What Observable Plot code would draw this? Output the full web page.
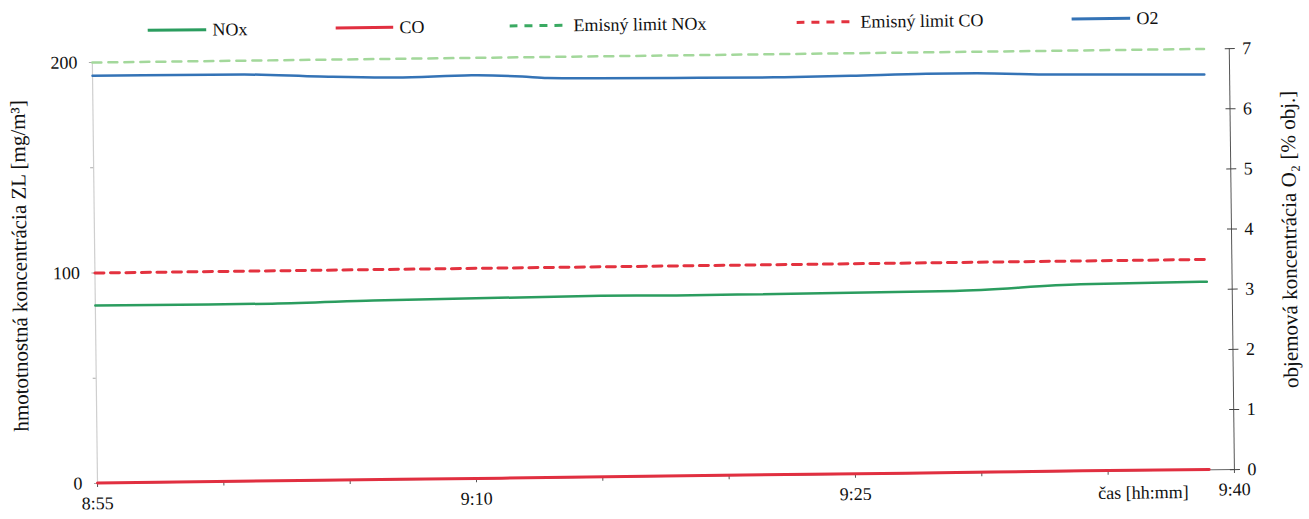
<!DOCTYPE html>
<html>
<head>
<meta charset="utf-8">
<script src="https://cdn.jsdelivr.net/npm/d3@7"></script>
<script src="https://cdn.jsdelivr.net/npm/@observablehq/plot@0.6"></script>
<style>
  html, body { margin: 0; padding: 0; background: #fff; overflow: hidden; }
  #wrap { position: relative; width: 1309px; height: 519px; transform: rotate(-0.7deg); transform-origin: 97px 483px; font-family: "Liberation Serif", "Times New Roman", Times, "DejaVu Serif", serif; color: #111; }
  #legend { position: absolute; left: 0; top: 0; width: 1309px; height: 45px; }
  .item { position: absolute; top: 20px; height: 22px; display: flex; align-items: center; font-size: 18px; white-space: nowrap; }
  .item svg { display: block; margin-right: 6px; }
  #chart { position: absolute; left: 0; top: 45px; }
</style>
</head>
<body>
<div id="wrap"><div id="legend"></div><div id="chart"></div></div>
<script>
// ---- data ----
const xDomain = ["8:55", "9:40"];
const xTickTimes = ["8:55", "9:00", "9:05", "9:10", "9:15", "9:20", "9:25", "9:30", "9:35", "9:40"];
const xTickLabels = ["8:55", "9:10", "9:25", "9:40"];
const leftTicks = [0, 50, 100, 150, 200];
const leftTickLabels = [0, 100, 200];
const rightTicks = [0, 1, 2, 3, 4, 5, 6, 7];
const leftMax = 200;
const rightMax = 7;

const noxTimes  = ["8:55", "9:02", "9:06", "9:15", "9:18", "9:29", "9:34", "9:39"];
const noxValues = [84.6, 84.4, 85.3, 86.3, 86.0, 86.5, 88.9, 89.4];

const coTimes  = ["8:55", "9:03", "9:11", "9:19", "9:27", "9:34", "9:39"];
const coValues = [0.2, 0.3, 0.2, 0.3, 0.2, 0.3, 0.2];

const limitTimes     = ["8:55", "9:39"];
const noxLimitValues = [200, 200];
const coLimitValues  = [100, 100];

const o2Times  = ["8:55", "8:57", "9:01", "9:04", "9:07", "9:10", "9:12", "9:13", "9:15", "9:18", "9:22", "9:25", "9:28", "9:30", "9:33", "9:36", "9:39"];
const o2Values = [6.78, 6.78, 6.77, 6.72, 6.69, 6.71, 6.68, 6.65, 6.635, 6.625, 6.615, 6.625, 6.645, 6.64, 6.605, 6.59, 6.575];

const seriesNames = ["NOx", "CO", "Emisný limit NOx", "Emisný limit CO", "O2"];
const leftTitle  = "hmototnostná koncentrácia ZL [mg/m³]";
const rightTitle = "objemová koncentrácia O₂ [% obj.]";
const xTitle     = "čas [hh:mm]";

// ---- helpers ----
const FONT = "'Liberation Serif', 'Times New Roman', Times, 'DejaVu Serif', serif";
const toMin = s => { const [h, m] = s.split(":").map(Number); return h * 60 + m; };
const toLeft = v => v * leftMax / rightMax;
const rows = (times, values) => times.map((t, i) => ({ t: toMin(t), v: values[i] }));
const labelByMin = new Map(xTickLabels.map(s => [toMin(s), s]));

const C = {
  nox: "#2b9d5f", co: "#e12f40", noxLim: "#a3d89b", noxLimLegend: "#3aaa62", coLim: "#e3323f", o2: "#3473b6"
};

// ---- legend ----
const legendItems = [
  { name: seriesNames[0], color: C.nox, dash: null, left: 153, w: 59 },
  { name: seriesNames[1], color: C.co, dash: null, left: 341, w: 58 },
  { name: seriesNames[2], color: C.noxLimLegend, dash: "8,7", left: 515, w: 58 },
  { name: seriesNames[3], color: C.coLim, dash: "8,7", left: 802, w: 58 },
  { name: seriesNames[4], color: C.o2, dash: null, left: 1077, w: 59 }
];
const legend = document.getElementById("legend");
for (const it of legendItems) {
  const div = document.createElement("div");
  div.className = "item";
  div.style.left = it.left + "px";
  div.innerHTML = `<svg width="${it.w}" height="6"><line x1="0" x2="${it.w}" y1="3" y2="3" stroke="${it.color}" stroke-width="3" ${it.dash ? `stroke-dasharray="${it.dash}"` : ""}/></svg><span>${it.name}</span>`;
  legend.appendChild(div);
}

// ---- chart ----
const x0 = toMin(xDomain[0]), x1 = toMin(xDomain[1]);
const chart = Plot.plot({
  width: 1309,
  height: 474,
  marginLeft: 97,
  marginRight: 75,
  marginTop: 17,
  marginBottom: 36,
  style: { fontFamily: FONT, fontSize: "18px", color: "#111", background: "white", overflow: "visible" },
  x: { domain: [x0, x1] },
  y: { domain: [0, leftMax] },
  marks: [
    Plot.ruleX([x0], { stroke: "#cfcfcf", strokeWidth: 1.2 }),
    Plot.ruleX([x1], { stroke: "#555", strokeWidth: 1 }),
    Plot.ruleY([0], { stroke: "#666", strokeWidth: 1 }),
    Plot.axisX({ ticks: xTickTimes.map(toMin), tickSize: 4, tickPadding: 9, stroke: "#555", fontFamily: FONT, tickFormat: d => labelByMin.get(d) ?? "", label: null }),
    Plot.axisY({ ticks: leftTicks, tickSize: 3, tickPadding: 12, stroke: "#aaa", fontFamily: FONT, tickFormat: d => leftTickLabels.includes(d) ? String(d) : "", label: null }),
    Plot.axisY({ anchor: "right", ticks: rightTicks.map(toLeft), tickSize: 10, dx: -5, stroke: "#444", tickFormat: () => "", label: null }),
    Plot.axisY({ anchor: "right", ticks: rightTicks.map(toLeft), tickSize: 0, tickPadding: 13, fontFamily: FONT, tickFormat: d => String(Math.round(d * rightMax / leftMax)), label: null }),
    Plot.line(rows(limitTimes, noxLimitValues), { x: "t", y: "v", stroke: C.noxLim, strokeWidth: 2.5, strokeDasharray: "9,7" }),
    Plot.line(rows(limitTimes, coLimitValues), { x: "t", y: "v", stroke: C.coLim, strokeWidth: 3, strokeDasharray: "9,6.5" }),
    Plot.line(rows(noxTimes, noxValues), { x: "t", y: "v", stroke: C.nox, strokeWidth: 2.5, curve: "monotone-x" }),
    Plot.line(rows(coTimes, coValues), { x: "t", y: "v", stroke: C.co, strokeWidth: 3, curve: "monotone-x" }),
    Plot.line(rows(o2Times, o2Values), { x: "t", y: d => toLeft(d.v), stroke: C.o2, strokeWidth: 2.5, curve: "monotone-x" }),
    Plot.text([leftTitle], { text: d => d, frameAnchor: "left", textAnchor: "middle", lineAnchor: "middle", rotate: -90, dx: -75, dy: -8, fontSize: 21, fontFamily: FONT }),
    Plot.text([rightTitle], { text: d => d, frameAnchor: "right", textAnchor: "middle", lineAnchor: "middle", rotate: -90, dx: 58, dy: -19, fontSize: 21, fontFamily: FONT }),
    Plot.text([xTitle], { text: d => d, frameAnchor: "bottom-right", textAnchor: "end", lineAnchor: "middle", dx: -46, dy: 22, fontSize: 18, fontFamily: FONT })
  ]
});
document.getElementById("chart").appendChild(chart);
</script>
</body>
</html>
